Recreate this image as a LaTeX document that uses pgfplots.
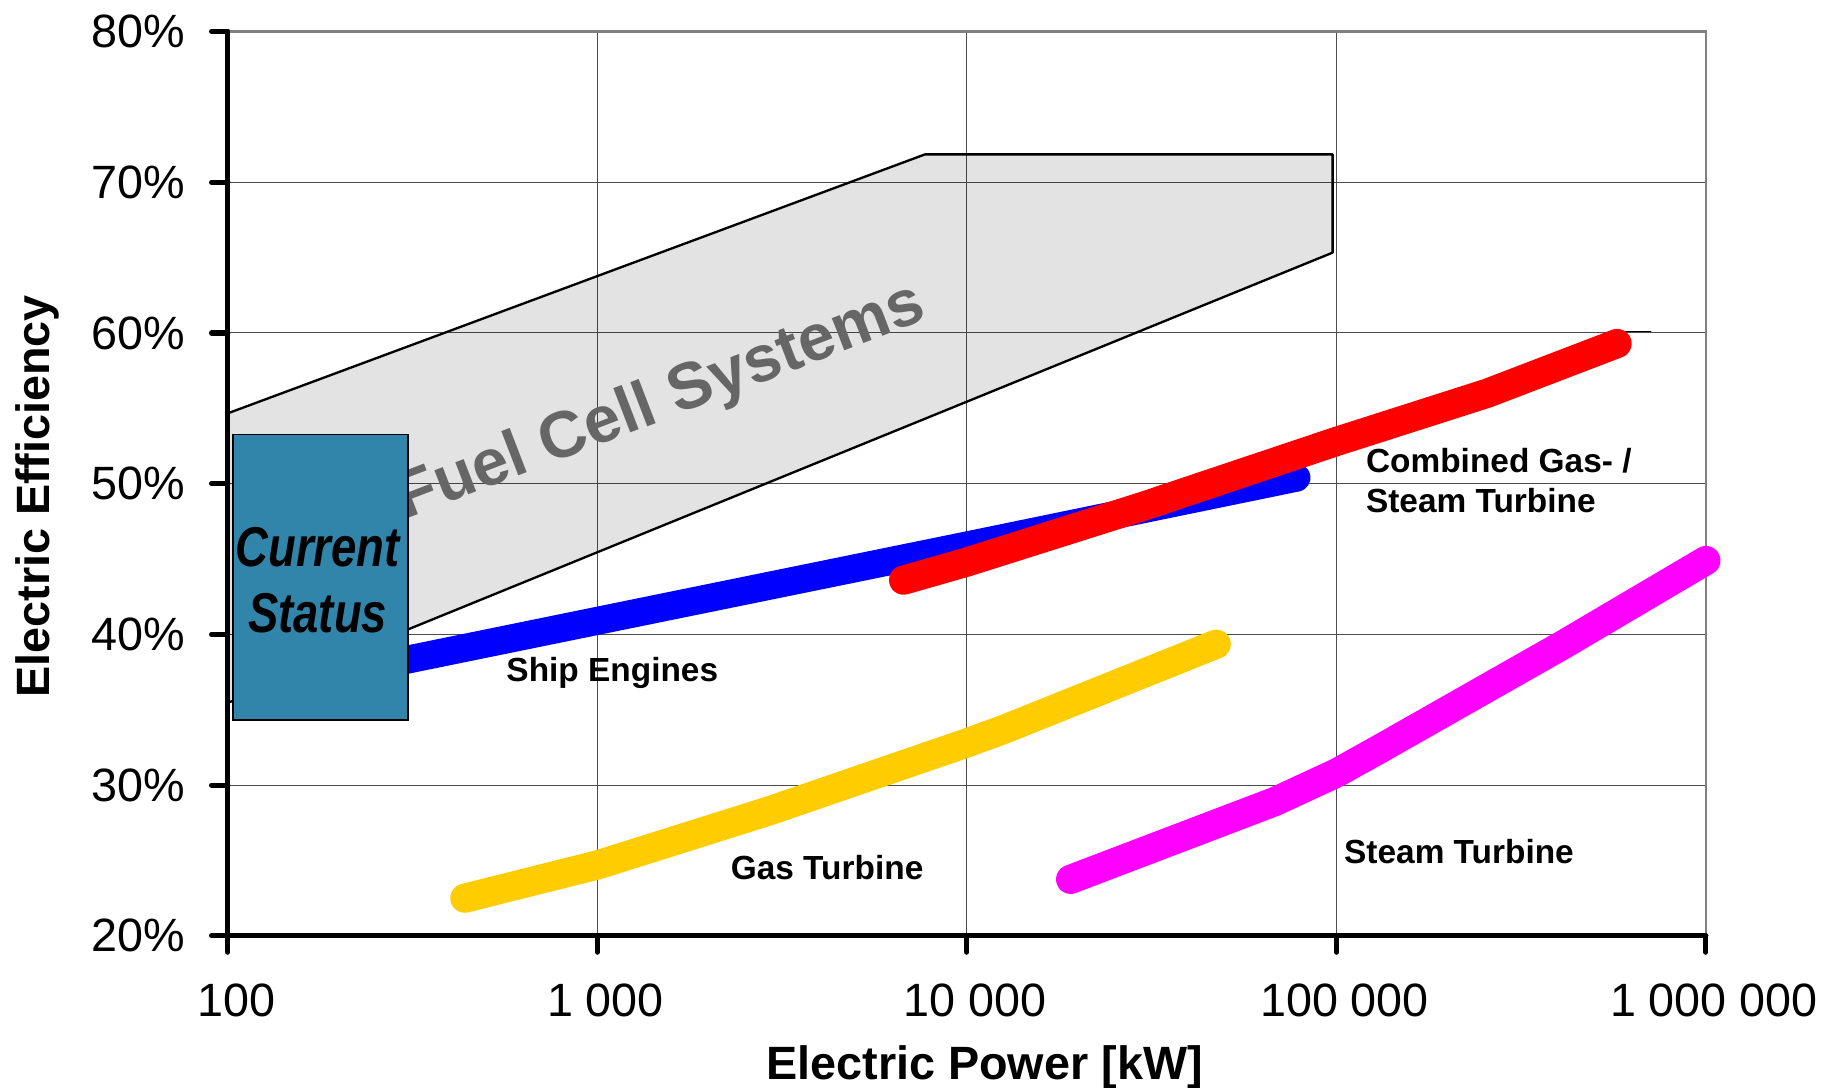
\documentclass[border=0pt]{standalone}
\usepackage{fontspec}
\setmainfont{Liberation Sans}
\usepackage{graphicx}
\usepackage{pgfplots}
\pgfplotsset{compat=1.18}
\definecolor{csblue}{HTML}{3285AA}
\definecolor{gtyellow}{HTML}{FFCC00}
\definecolor{stmag}{RGB}{255,0,255}
\definecolor{ccred}{RGB}{255,0,0}
\definecolor{seblue}{RGB}{0,0,255}
\begin{document}
\begin{tikzpicture}
\begin{axis}[
  scale only axis,
  width=632.5pt, height=387pt,
  xmode=log, xmin=100, xmax=1000000,
  ymin=20, ymax=80,
  xtick={100,1000,10000,100000,1000000},
  xticklabels={100,1 000,10 000,100 000,1 000 000},
  minor tick length=0pt,
  minor grid style={draw=none},
  ytick={20,30,40,50,60,70,80},
  yticklabels={20\%,30\%,40\%,50\%,60\%,70\%,80\%},
  grid=major,
  major grid style={line width=0.45pt, draw=black!70},
  axis line style={draw=black!50, line width=1.1pt},
  tick align=outside,
  tick pos=left,
  major tick length=7pt,
  major tick style={line width=2.2pt, black, line cap=round},
  tick label style={font=\fontsize{20}{24}\selectfont},
  yticklabel style={xshift=-8pt},
  xticklabel style={yshift=-10pt, xshift=3.5pt},
  xlabel={Electric Power [kW]},
  ylabel={Electric Efficiency},
  xlabel style={at={(axis description cs:0.512,-0.145)}, anchor=center, font=\fontsize{20}{24}\selectfont\bfseries},
  ylabel style={at={(axis description cs:-0.129,0.486)}, anchor=center, font=\fontsize{20}{24}\selectfont\bfseries},
  clip=false,
  every axis plot/.append style={line cap=round, line join=round},
]
% Fuel cell region
\addplot[draw=black, line width=1pt, fill=black, fill opacity=0.11] coordinates {(100,54.67) (7710,71.85) (97700,71.85) (97700,65.33) (100,35.46)} -- cycle;
\node[rotate=21, text=black!60, font=\fontsize{28}{34}\selectfont\bfseries] at (axis cs:1490,55.35) {Fuel Cell Systems};
% Ship engines
\addplot[seblue, line width=12pt] coordinates {(200,37.4) (1000,40.9) (10000,45.9) (78000,50.4)};
% thin line near CC end
\addplot[black, line width=0.5pt] coordinates {(566000,60.12) (710000,60.12)};
% Combined cycle
\addplot[ccred, line width=12.5pt] coordinates {(6745,43.6) (10000,44.8) (30000,48.5) (100000,52.8) (256000,56.0) (575000,59.3)};
% Gas turbine
\addplot[gtyellow, line width=12.5pt] coordinates {(438,22.5) (1000,24.7) (2925,28.3) (10000,32.8) (12600,33.7) (47300,39.35)};
% Steam turbine
\addplot[stmag, line width=12.5pt] coordinates {(19100,23.75) (68000,28.9) (100000,30.8) (131000,32.4) (410000,39.3) (1000000,44.9)};
% Current status box
\addplot[fill=csblue, draw=black, line width=0.8pt, line cap=butt, line join=miter] coordinates {(103,34.34) (307,34.34) (307,53.26) (103,53.26)} -- cycle;
\node[font=\fontsize{24}{28}\selectfont\bfseries\itshape] at (axis cs:175,45.81) {\scalebox{0.81}[1]{Current}};
\node[font=\fontsize{24}{28}\selectfont\bfseries\itshape] at (axis cs:175,41.4) {\scalebox{0.81}[1]{Status}};
% labels
\node[anchor=west, inner sep=0pt, font=\fontsize{14.3}{17}\selectfont\bfseries] at (axis cs:566,37.44) {Ship Engines};
\node[anchor=west, inner sep=0pt, font=\fontsize{14.3}{17}\selectfont\bfseries] at (axis cs:2291,24.5) {Gas Turbine};
\node[anchor=west, inner sep=0pt, font=\fontsize{14.3}{17}\selectfont\bfseries] at (axis cs:104700,25.6) {Steam Turbine};
\node[anchor=west, inner sep=0pt, align=left, font=\fontsize{14.3}{17}\selectfont\bfseries] at (axis cs:120000,50.2) {Combined Gas- /\\Steam Turbine};
% heavy left and bottom axis
\draw[line width=2.2pt, black, line cap=round] (rel axis cs:0,1) -- (rel axis cs:0,0) -- (rel axis cs:1,0);
\coordinate (bl) at (rel axis cs:0,0);
\coordinate (tr) at (rel axis cs:1,1);
\end{axis}
\pgfresetboundingbox
\path ([shift={(-97.5pt,-65pt)}]bl) rectangle ([shift={(54pt,13.5pt)}]tr);
\end{tikzpicture}
\end{document}
